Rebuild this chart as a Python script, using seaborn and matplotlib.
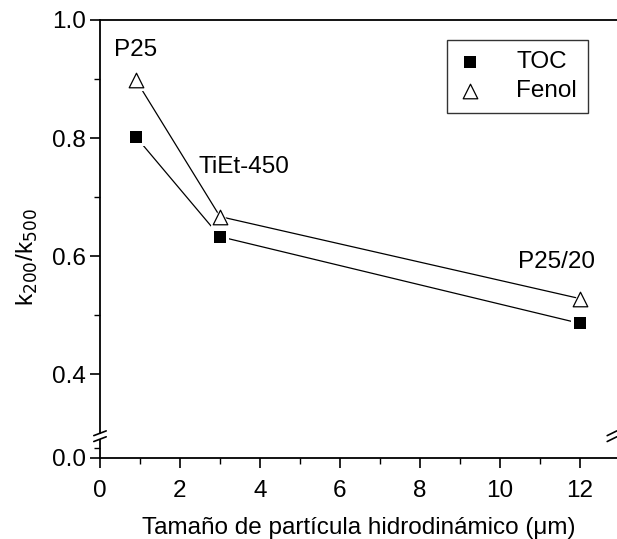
import numpy as np
import pandas as pd
import matplotlib
matplotlib.use("Agg")
import matplotlib.pyplot as plt
import seaborn as sns
from matplotlib.patches import Rectangle

size_um = [0.9, 3.0, 12.0]
toc = [0.802, 0.633, 0.486]
fenol = [0.898, 0.667, 0.528]
labels = ["P25", "TiEt-450", "P25/20"]
label_pos = [(0.9, 0.949), (3.6, 0.751), (11.4, 0.59)]
yticks = [0.4, 0.6, 0.8, 1.0]
xticks = [0, 2, 4, 6, 8, 10, 12]

sns.set_theme(style="white")
plt.rcParams['font.family'] = ['Liberation Sans', 'DejaVu Sans']
plt.rcParams['text.color'] = 'black'
plt.rcParams['axes.labelcolor'] = 'black'

FS = 17.5
fig = plt.figure(figsize=(6.17, 5.39), dpi=100)
ax = fig.add_axes([100/617, 1-458/539, 1-100/617, 438/539])

ybot = 0.258
ax.set_xlim(0, 12.925)
ax.set_ylim(ybot, 1.0)

df = pd.DataFrame({"x": size_um * 2, "y": toc + fenol,
                   "serie": ["TOC"] * 3 + ["Fenol"] * 3})
sns.lineplot(data=df, x="x", y="y", units="serie", estimator=None,
             color="black", lw=0.9, ax=ax, legend=False, zorder=2)

# white halos to create gaps between line and markers
ax.scatter(size_um, toc, marker="s", s=150, color="white", zorder=3, lw=0)
ax.scatter(size_um, fenol, marker="^", s=230, color="white", zorder=3, lw=0)
ax.scatter(size_um, toc, marker="s", s=70, color="black", zorder=4, lw=0, label="TOC")
ax.scatter(size_um, fenol, marker="^", s=110, facecolor="white", edgecolor="black",
           lw=0.9, zorder=4, label="Fenol")

for t, (px, py) in zip(labels, label_pos):
    ax.text(px, py, t, fontsize=FS, ha="center", va="center", color="black")

ax.spines["right"].set_visible(False)
for s in ["left", "bottom", "top"]:
    ax.spines[s].set_color("black")
    ax.spines[s].set_linewidth(1.3)

ax.set_xticks(xticks)
ax.set_xticklabels([str(v) for v in xticks])
ax.set_xticks([1, 3, 5, 7, 9, 11], minor=True)
ax.set_yticks([ybot] + yticks)
ax.set_yticklabels(["0.0"] + [f"{v:.1f}" for v in yticks])
ax.set_yticks([0.5, 0.7, 0.9, ybot + 10/590], minor=True)
ax.tick_params(axis="both", which="major", direction="out", length=7, width=1.2,
               labelsize=FS, colors="black", left=True, bottom=True, pad=3)
ax.tick_params(axis="x", which="major", pad=9)
ax.tick_params(axis="both", which="minor", direction="out", length=4, width=1.0,
               left=True, bottom=True, colors="black")

ax.set_xlabel("Tamaño de partícula hidrodinámico (μm)", fontsize=17.5)
ax.xaxis.set_label_coords(0.5, -(517 - 458) / 438)
ax.set_ylabel("k$_{200}$/k$_{500}$", fontsize=17.5)
ax.yaxis.set_label_coords(-60 / 517, (458 - 257) / 438)

# axis break marks
ybrk = 1 - (436 - 20) / 590
trans = ax.get_yaxis_transform()
ax.add_patch(Rectangle((-0.012, ybrk - 0.004), 0.024, 0.008, transform=trans,
                       facecolor="white", edgecolor="none", clip_on=False, zorder=5))
h = 0.004
for dy in (-0.005, 0.005):
    ax.plot([-0.012, 0.012], [ybrk + dy - h, ybrk + dy + h], transform=trans,
            color="black", lw=1.2, clip_on=False, zorder=6)
xr = (612 - 100) / 40
for dy in (-0.005, 0.005):
    ax.plot([xr - 0.12, xr + 0.12], [ybrk + dy - h, ybrk + dy + h],
            color="black", lw=1.2, clip_on=False, zorder=6)

leg = ax.legend(loc="upper left", bbox_to_anchor=((447 - 100) / 517, 1 - 20 / 438),
                fontsize=FS, frameon=True, fancybox=False, edgecolor="black",
                handletextpad=1.4, borderpad=0.45, labelspacing=0.3, handlelength=1.0,
                borderaxespad=0)
leg.get_frame().set_linewidth(1.0)
for t in leg.get_texts():
    t.set_color("black")

fig.savefig("out.png", dpi=100, facecolor="white")
